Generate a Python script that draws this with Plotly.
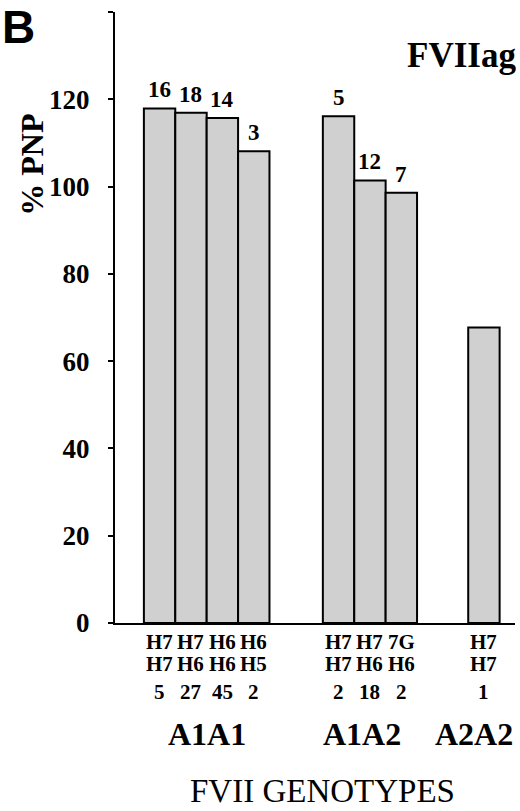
import plotly.graph_objects as go

# ---- data ------------------------------------------------------------
group_names = ["A1A1", "A1A2", "A2A2"]
bar_group = ["A1A1", "A1A1", "A1A1", "A1A1", "A1A2", "A1A2", "A1A2", "A2A2"]
genotype_top = ["H7", "H7", "H6", "H6", "H7", "H7", "7G", "H7"]
genotype_bottom = ["H7", "H6", "H6", "H5", "H7", "H6", "H6", "H7"]
n_subjects = [5, 27, 45, 2, 2, 18, 2, 1]
pct_pnp = [117.9, 116.9, 115.7, 108.1, 116.1, 101.4, 98.6, 67.7]
bar_labels = ["16", "18", "14", "3", "5", "12", "7", ""]
y_ticks = [0, 20, 40, 60, 80, 100, 120, 140]

# ---- layout tokens ---------------------------------------------------
SERIF = "Liberation Serif, Times New Roman, serif"
BAR_FILL = "#d0d0d0"
GROUP_START = {"A1A1": 1.42, "A1A2": 7.12, "A2A2": 11.75}
X_MAX = 12.74

# bar centres: consecutive slots inside each group
xs = []
seen = {}
for g in bar_group:
    k = seen.get(g, 0)
    xs.append(GROUP_START[g] + k)
    seen[g] = k + 1

fig = go.Figure(go.Bar(
    x=xs, y=pct_pnp, width=1.0,
    marker=dict(color=BAR_FILL, line=dict(color="black", width=2)),
    hoverinfo="skip",
))


def bold(size):
    return dict(family=SERIF, size=size, color="black", weight="bold")


ann = []
# counts above bars
for x, v, t in zip(xs, pct_pnp, bar_labels):
    if t:
        ann.append(dict(x=x, y=v, xref="x", yref="y", text=t, showarrow=False,
                        yanchor="bottom", yshift=4, font=bold(23)))

# genotype rows and n under the axis (tight boxes so rows sit close)
for x, a, b, n in zip(xs, genotype_top, genotype_bottom, n_subjects):
    for row_y, txt in ((-0.031, a), (-0.066, b), (-0.1115, str(n))):
        ann.append(dict(x=x, y=row_y, xref="x", yref="paper", text=txt,
                        showarrow=False, yanchor="middle", height=19,
                        font=bold(21)))

# group names
for g in group_names:
    members = [x for x, gg in zip(xs, bar_group) if gg == g]
    cx = sum(members) / len(members)
    shift = {"A1A1": 0, "A1A2": -8, "A2A2": -10}[g]
    ann.append(dict(x=cx, y=-0.1823, xref="x", yref="paper", text=g, xshift=shift,
                    showarrow=False, yanchor="middle", font=bold(32)))

ann += [
    dict(x=0.5175, y=-0.2756, xref="paper", yref="paper", text="FVII GENOTYPES",
         showarrow=False, xanchor="center", yanchor="middle",
         font=dict(family=SERIF, size=33, color="black")),
    dict(x=-0.2075, y=0.75, xref="paper", yref="paper", text="% PNP",
         showarrow=False, textangle=-90, xanchor="center", yanchor="middle",
         font=bold(32)),
    dict(x=1.008, y=0.928, xref="paper", yref="paper", text="FVIIag",
         showarrow=False, xanchor="right", yanchor="middle", font=bold(35)),
    dict(x=-0.2875, y=1.022, xref="paper", yref="paper", text="B",
         showarrow=False, xanchor="left", yanchor="top",
         font=dict(family="Liberation Sans, Arial, sans-serif", size=46,
                   color="black", weight="bold")),
]

fig.update_layout(
    width=520, height=811,
    margin=dict(l=115, r=5, t=12, b=187.5),
    paper_bgcolor="white", plot_bgcolor="white",
    showlegend=False,
    annotations=ann,
    xaxis=dict(range=[0, X_MAX], showticklabels=False, ticks="",
               showgrid=False, zeroline=False,
               showline=True, linecolor="black", linewidth=2),
    yaxis=dict(range=[0, 140], tickvals=y_ticks, ticks="outside", ticklen=5,
               tickwidth=2, tickcolor="black", ticklabelstandoff=13,
               showgrid=False, zeroline=False,
               showline=True, linecolor="black", linewidth=2,
               tickfont=bold(27)),
)

# drop the default 8px body margin so the figure sits flush in the window
fig.write_html("out.html", config={"displayModeBar": False},
               post_script="document.body.style.margin='0';")
